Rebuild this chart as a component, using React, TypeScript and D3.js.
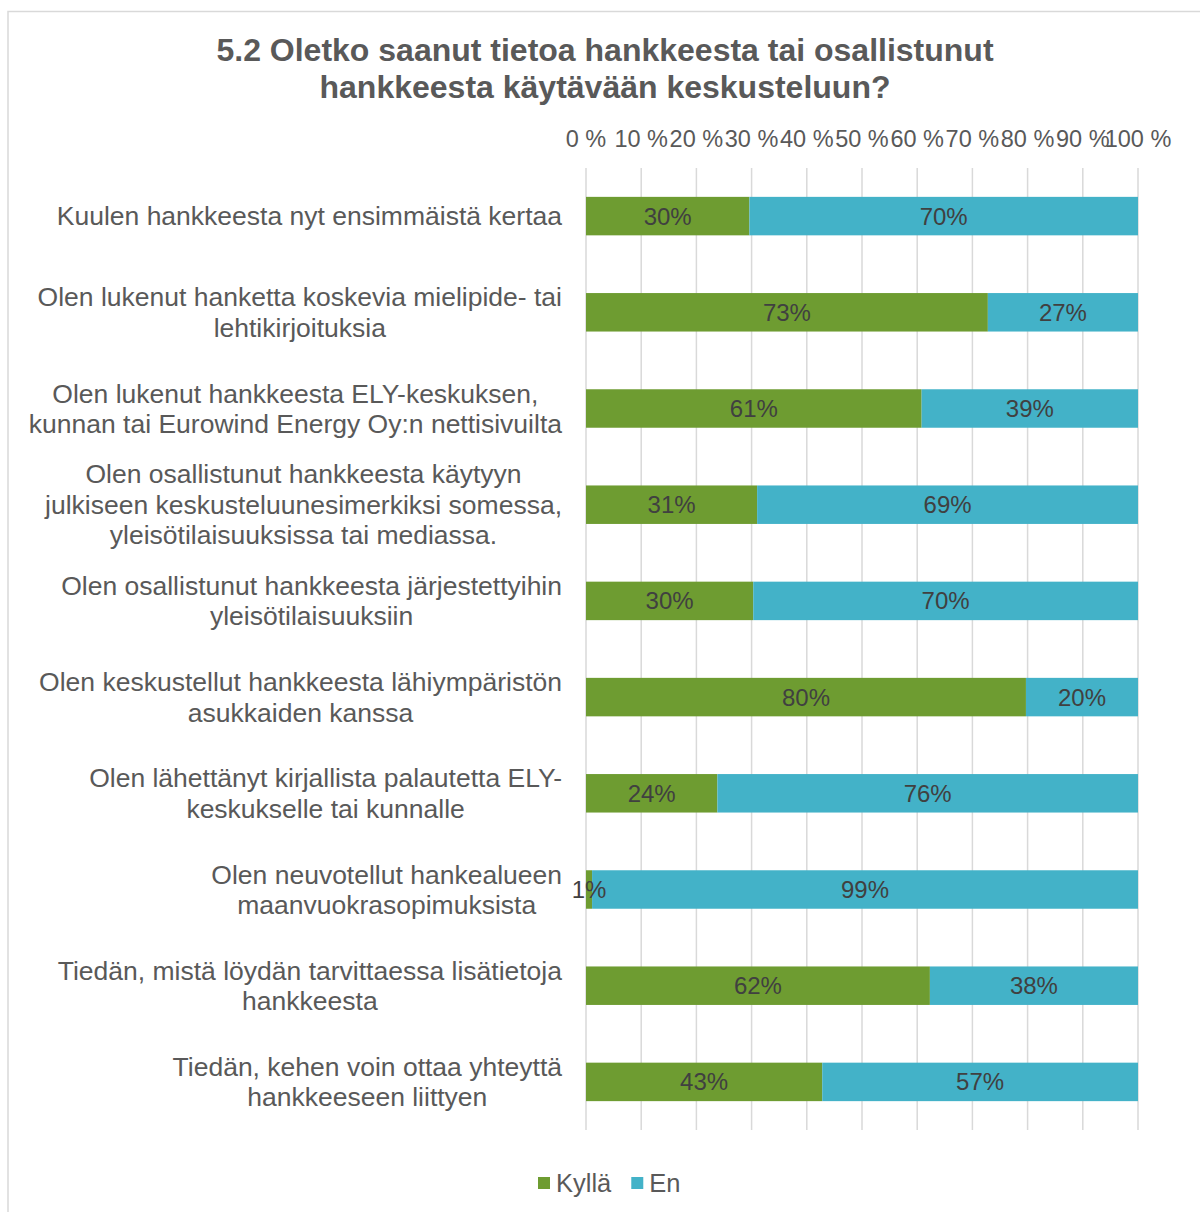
import * as d3 from 'd3';
import React, { useEffect, useRef } from 'react';

const categories: string[][] = [
  ['Kuulen hankkeesta nyt ensimmäistä kertaa'],
  ['Olen lukenut hanketta koskevia mielipide- tai', 'lehtikirjoituksia'],
  ['Olen lukenut hankkeesta ELY-keskuksen,', 'kunnan tai Eurowind Energy Oy:n nettisivuilta'],
  ['Olen osallistunut hankkeesta käytyyn', 'julkiseen keskusteluunesimerkiksi somessa,', 'yleisötilaisuuksissa tai mediassa.'],
  ['Olen osallistunut hankkeesta järjestettyihin', 'yleisötilaisuuksiin'],
  ['Olen keskustellut hankkeesta lähiympäristön', 'asukkaiden kanssa'],
  ['Olen lähettänyt kirjallista palautetta ELY-', 'keskukselle tai kunnalle'],
  ['Olen neuvotellut hankealueen', 'maanvuokrasopimuksista'],
  ['Tiedän, mistä löydän tarvittaessa lisätietoja', 'hankkeesta'],
  ['Tiedän, kehen voin ottaa yhteyttä', 'hankkeeseen liittyen'],
];

const kylla = [29.6, 72.8, 60.8, 31.0, 30.3, 79.7, 23.8, 1.1, 62.3, 42.8];
const en = [70.4, 27.2, 39.2, 69.0, 69.7, 20.3, 76.2, 98.9, 37.7, 57.2];

const seriesNames = ['Kyllä', 'En'];
const seriesColors = ['#6e9c31', '#43b2c8'];
const tickValues = [0, 10, 20, 30, 40, 50, 60, 70, 80, 90, 100];

const titleLines = [
  '5.2 Oletko saanut tietoa hankkeesta tai osallistunut',
  'hankkeesta käytävään keskusteluun?',
];

const W = 1200;
const H = 1212;
const FONT = '"Liberation Sans", Arial, sans-serif';

const App: React.FC = () => {
  const svgRef = useRef<SVGSVGElement>(null);

  useEffect(() => {
    if (!svgRef.current) return;
    const svg = d3.select(svgRef.current);
    svg.selectAll('*').remove();

    // chart border (runs off the picture on right/bottom)
    svg.append('rect')
      .attr('x', 8)
      .attr('y', 11.5)
      .attr('width', 1220)
      .attr('height', 1220)
      .attr('fill', '#fff')
      .attr('stroke', '#d9d9d9')
      .attr('stroke-width', 1.5);

    const x = d3.scaleLinear().domain([0, 100]).range([586, 1138]);
    const ids = categories.map((_, i) => String(i));
    const y = d3.scaleBand()
      .domain(ids)
      .range([168, 1130])
      .paddingInner(0.6)
      .paddingOuter(0.3);

    // title
    svg.append('g')
      .selectAll('text')
      .data(titleLines)
      .join('text')
      .attr('x', 605)
      .attr('y', (d, i) => 50 + i * 37)
      .attr('dy', '0.35em')
      .attr('text-anchor', 'middle')
      .attr('font-family', FONT)
      .attr('font-size', '32px')
      .attr('font-weight', 'bold')
      .attr('fill', '#595959')
      .text(d => d);

    // gridlines
    svg.append('g')
      .selectAll('line')
      .data(tickValues)
      .join('line')
      .attr('x1', d => x(d))
      .attr('x2', d => x(d))
      .attr('y1', 168)
      .attr('y2', 1130)
      .attr('stroke', '#d9d9d9')
      .attr('stroke-width', 1.5);

    // top axis labels
    svg.append('g')
      .selectAll('text')
      .data(tickValues)
      .join('text')
      .attr('x', d => x(d))
      .attr('y', 139)
      .attr('dy', '0.35em')
      .attr('text-anchor', 'middle')
      .attr('font-family', FONT)
      .attr('font-size', '23.5px')
      .attr('fill', '#595959')
      .text(d => `${d} %`);

    // stacked bars
    const table = categories.map((_, i) => ({ id: String(i), kylla: kylla[i], en: en[i] }));
    const stacked = d3.stack<any>().keys(['kylla', 'en'])(table);

    stacked.forEach((layer, si) => {
      const g = svg.append('g');
      g.selectAll('rect')
        .data(layer)
        .join('rect')
        .attr('x', d => x(d[0]))
        .attr('y', d => y(d.data.id) || 0)
        .attr('width', d => x(d[1]) - x(d[0]))
        .attr('height', y.bandwidth())
        .attr('fill', seriesColors[si]);
    });

    // value labels on top of all bars
    stacked.forEach(layer => {
      svg.append('g')
        .selectAll('text')
        .data(layer)
        .join('text')
        .attr('x', d => (x(d[0]) + x(d[1])) / 2)
        .attr('y', d => (y(d.data.id) || 0) + y.bandwidth() / 2)
        .attr('dy', '0.35em')
        .attr('text-anchor', 'middle')
        .attr('font-family', FONT)
        .attr('font-size', '24px')
        .attr('fill', '#404040')
        .text(d => `${Math.round(d[1] - d[0])}%`);
    });

    // category labels: block right aligned, lines centred within block
    categories.forEach((lines, i) => {
      const cy = (y(String(i)) || 0) + y.bandwidth() / 2;
      const g = svg.append('g').attr('transform', `translate(562, ${cy})`);
      const texts = g.selectAll('text')
        .data(lines)
        .join('text')
        .attr('y', (d, j) => (j - (lines.length - 1) / 2) * 30.5)
        .attr('dy', '0.35em')
        .attr('text-anchor', 'middle')
        .attr('font-family', FONT)
        .attr('font-size', '26.5px')
        .attr('fill', '#595959')
        .text(d => d);
      let maxW = 0;
      texts.each(function () {
        maxW = Math.max(maxW, (this as SVGTextElement).getComputedTextLength());
      });
      texts.attr('x', -maxW / 2);
    });

    // legend
    const legend = svg.append('g').attr('transform', 'translate(538, 1183)');
    let lx = 0;
    seriesNames.forEach((name, i) => {
      const item = legend.append('g').attr('transform', `translate(${lx}, 0)`);
      item.append('rect')
        .attr('x', 0)
        .attr('y', -6)
        .attr('width', 12)
        .attr('height', 12)
        .attr('fill', seriesColors[i]);
      const t = item.append('text')
        .attr('x', 18)
        .attr('y', 0)
        .attr('dy', '0.35em')
        .attr('font-family', FONT)
        .attr('font-size', '25.5px')
        .attr('fill', '#595959')
        .text(name);
      lx += 18 + (t.node() as SVGTextElement).getComputedTextLength() + 20;
    });
  }, []);

  return (
    <svg
      ref={svgRef}
      width={W}
      height={H}
      style={{ position: 'absolute', left: 0, top: 0, background: '#fff' }}
    />
  );
};

export default App;
